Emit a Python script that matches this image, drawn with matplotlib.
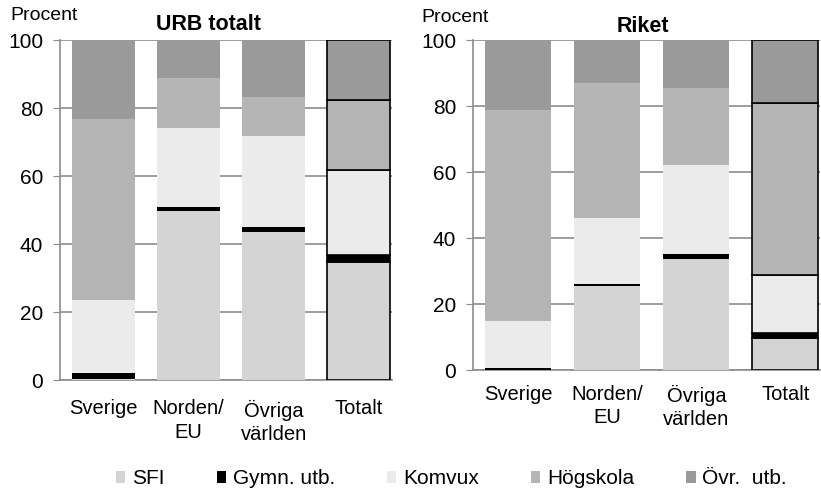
import numpy as np
import matplotlib
matplotlib.use("Agg")
from matplotlib import pyplot as plt
from matplotlib.patches import Patch

plt.rcParams['font.family'] = ['Liberation Sans', 'DejaVu Sans']

kategorier = ["Sverige", "Norden/\nEU", "Övriga\nvärlden", "Totalt"]
serier = ["SFI", "Gymn. utb.", "Komvux", "Högskola", "Övr.  utb."]
farger = ["#d4d4d4", "#000000", "#ebebeb", "#b5b5b5", "#9a9a9a"]

# andel i procent per kategori (Sverige, Norden/EU, Övriga världen, Totalt)
urb_sfi = [0.2, 49.8, 43.4, 34.6]
urb_gymn = [2.0, 1.0, 1.7, 2.2]
urb_komvux = [21.3, 23.2, 26.7, 25.0]
urb_hogskola = [53.3, 14.7, 11.4, 20.6]
urb_ovr = [23.2, 11.3, 16.8, 17.6]

riket_sfi = [0.1, 25.5, 33.7, 9.8]
riket_gymn = [0.6, 0.5, 1.4, 1.5]
riket_komvux = [14.1, 20.2, 27.0, 17.5]
riket_hogskola = [64.0, 40.7, 23.3, 52.0]
riket_ovr = [21.2, 13.1, 14.6, 19.2]

urb = [urb_sfi, urb_gymn, urb_komvux, urb_hogskola, urb_ovr]
riket = [riket_sfi, riket_gymn, riket_komvux, riket_hogskola, riket_ovr]

fig = plt.figure(figsize=(8.21, 4.92), dpi=100)
W, H = 821, 492


def rita(ax, data, xpad):
    x = np.arange(len(kategorier))
    botten = np.zeros(len(kategorier))
    for varden, farg in zip(data, farger):
        varden = np.array(varden)
        staplar = ax.bar(x, varden, 0.74, bottom=botten, color=farg, zorder=3)
        # totalstapeln har svart kant
        staplar[-1].set_edgecolor("black")
        staplar[-1].set_linewidth(1.2)
        botten += varden
    ax.set_ylim(0, 100)
    ax.set_xlim(-0.51, 3.39)
    ax.set_yticks(range(0, 101, 20))
    ax.grid(axis="y", color="#8c8c8c", linewidth=1.2, zorder=0)
    for s in ["top", "right"]:
        ax.spines[s].set_visible(False)
    for s in ["left", "bottom"]:
        ax.spines[s].set_color("#8c8c8c")
        ax.spines[s].set_linewidth(1.2)
    ax.set_xticks(x)
    ax.set_xticklabels(kategorier, fontsize=14.5, linespacing=1.3)
    ax.tick_params(axis="x", length=0, pad=xpad)
    ax.tick_params(axis="y", labelsize=15, length=5, color="#8c8c8c", pad=7)


ax1 = fig.add_axes([60 / W, 1 - 380 / H, 332 / W, 340 / H])
rita(ax1, urb, 14)
fig.text(10 / W, 1 - 15 / H, "Procent", fontsize=14, va="center", ha="left")
fig.text(208 / W, 1 - 25 / H, "URB totalt", fontsize=15.5, fontweight="bold",
         va="center", ha="center")

ax2 = fig.add_axes([473 / W, 1 - 370 / H, 347 / W, 330 / H])
rita(ax2, riket, 10.5)
fig.text(421 / W, 1 - 18 / H, "Procent", fontsize=14, va="center", ha="left")
fig.text(643 / W, 1 - 26 / H, "Riket", fontsize=15.5, fontweight="bold",
         va="center", ha="center")

handtag = [Patch(facecolor=f, edgecolor="none") for f in farger]
fig.legend(handtag, serier, loc="center left", bbox_to_anchor=(116 / W, 1 - 479 / H),
           ncol=5, frameon=False, fontsize=15, handlelength=0.45, handleheight=0.45,
           handletextpad=0.32, columnspacing=2.5, borderpad=0, borderaxespad=0)

fig.savefig("out.png", dpi=100)
